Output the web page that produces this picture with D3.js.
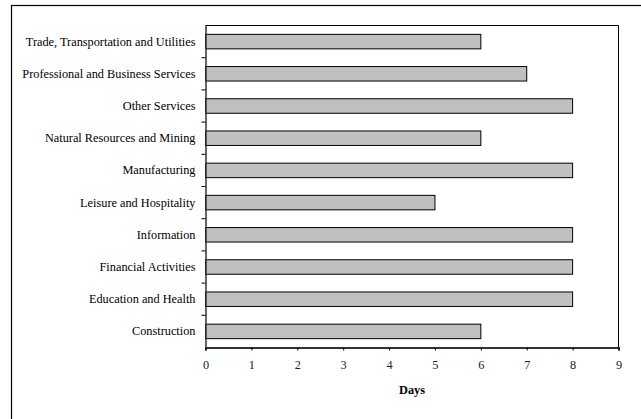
<!DOCTYPE html>
<html><head><meta charset="utf-8">
<script src="https://cdn.jsdelivr.net/npm/d3@7"></script>
<style>body{margin:0;background:#fff}svg{display:block}svg text{font-family:"Liberation Serif","DejaVu Serif",serif}</style>
</head><body>
<script>
const categories = ["Trade, Transportation and Utilities","Professional and Business Services","Other Services","Natural Resources and Mining","Manufacturing","Leisure and Hospitality","Information","Financial Activities","Education and Health","Construction"];
const days = [6,7,8,6,8,5,8,8,8,6];
const xTicks = [0,1,2,3,4,5,6,7,8,9];
const xTitle = "Days";

const W = 641, H = 419;
const m = {left:205.5, right:618.5, top:25.5, bottom:347.5};
const svg = d3.select("body").append("svg").attr("width",W).attr("height",H);
const fs = 12.3;

svg.append("rect").attr("x",11.5).attr("y",5.5).attr("width",640).attr("height",420)
  .attr("fill","none").attr("stroke","#000").attr("stroke-width",1.2);

const x = d3.scaleLinear().domain([0,9]).range([m.left,m.right]);
const y = d3.scaleBand().domain(categories).range([m.top,m.bottom]).paddingInner(0).paddingOuter(0);

svg.append("path").attr("d",`M${m.left},${m.top}H${m.right}V${m.bottom}`)
  .attr("fill","none").attr("stroke","#000").attr("stroke-width",1);

const bh = y.bandwidth()*0.45;
svg.append("g").selectAll("rect").data(categories).join("rect")
  .attr("x",x(0)).attr("y",(d)=>y(d)+y.bandwidth()/2-bh/2)
  .attr("width",(d,i)=>x(days[i])-x(0)).attr("height",bh)
  .attr("fill","#c0c0c0").attr("stroke","#000").attr("stroke-width",1);

const xa = svg.append("g").attr("transform",`translate(0,${m.bottom})`)
  .call(d3.axisBottom(x).tickValues(xTicks).tickSize(3).tickPadding(10).tickFormat(d3.format("d")));
xa.attr("font-family",null).attr("font-size",null);
xa.select(".domain").attr("stroke","#333").attr("stroke-width",2);
xa.selectAll("line").attr("stroke","#000");
xa.selectAll("text").style("font-size",fs+"px").attr("fill","#222");

const ya = svg.append("g").attr("transform",`translate(${m.left},0)`)
  .call(d3.axisLeft(y).tickSize(0).tickPadding(10));
ya.attr("font-family",null).attr("font-size",null);
ya.select(".domain").attr("stroke","#333").attr("stroke-width",1.5);
ya.selectAll("text").style("font-size",fs+"px").attr("fill","#000");
const bounds = categories.slice(1).map(c=>y(c));
svg.append("g").selectAll("line").data(bounds).join("line")
  .attr("x1",m.left-4).attr("x2",m.left).attr("y1",d=>d).attr("y2",d=>d)
  .attr("stroke","#000").attr("stroke-width",1);

svg.append("text").attr("x",(m.left+m.right)/2).attr("y",394)
  .attr("text-anchor","middle").style("font-size",fs+"px")
  .attr("font-weight","bold").text(xTitle);
</script>
</body></html>
